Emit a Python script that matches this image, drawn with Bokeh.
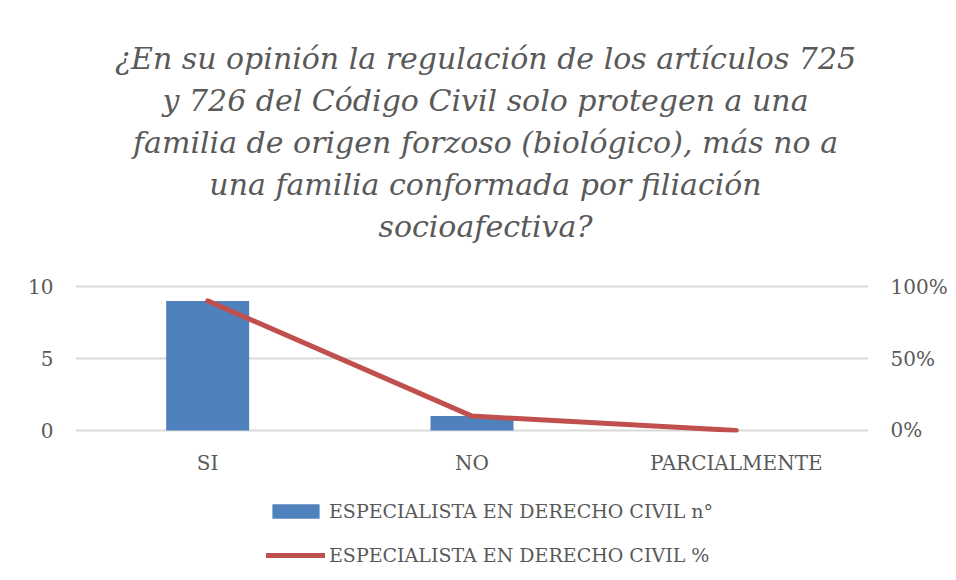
from bokeh.plotting import figure
from bokeh.layouts import column
from bokeh.models import (Range1d, LinearAxis, FixedTicker, NumeralTickFormatter,
                          Legend, LegendItem, Label)
from bokeh.embed import file_html
from bokeh.resources import INLINE

categories = ["SI", "NO", "PARCIALMENTE"]
counts = [9, 1, 0]
percents = [0.9, 0.1, 0.0]
left_ticks = [0, 5, 10]
right_ticks = [0, 0.5, 1.0]
title_lines = [
    "¿En su opinión la regulación de los artículos 725",
    "y 726 del Código Civil solo protegen a una",
    "familia de origen forzoso (biológico), más no a",
    "una familia conformada por filiación",
    "socioafectiva?",
]
series_names = ["ESPECIALISTA EN DERECHO CIVIL n°", "ESPECIALISTA EN DERECHO CIVIL %"]

FONT = "DejaVu Serif"
TXT = "#595959"
BLUE = "#4F81BD"
RED = "#C0504D"
W = 956
FL, FR = 75, 868  # frame left / right (page px)
NAN = float("nan")


def bare(fig):
    fig.outline_line_color = None
    fig.background_fill_color = "white"
    fig.border_fill_color = "white"
    fig.xgrid.grid_line_color = None
    fig.ygrid.grid_line_color = None
    return fig


# ---- header with the title ----
head_h = 270
head = bare(figure(width=W, height=head_h, x_range=Range1d(FL, FR),
                   y_range=Range1d(head_h, 0), x_axis_location=None,
                   y_axis_location=None, output_backend="svg",
                   toolbar_location=None, min_border_left=FL,
                   min_border_right=W - FR, min_border_top=0,
                   min_border_bottom=0))
baselines = [58, 100, 142, 184, 226]
for line, yb in zip(title_lines, baselines):
    head.add_layout(Label(x=485, y=yb, text=line, text_align="center",
                          text_baseline="alphabetic", text_font=FONT,
                          text_font_style="italic", text_font_size="30px",
                          text_color=TXT))

# ---- main chart ----
p = bare(figure(x_range=categories, y_range=Range1d(-0.14, 10.14),
                width=W, height=210, output_backend="svg",
                toolbar_location=None, min_border_left=FL,
                min_border_right=W - FR, min_border_top=14,
                min_border_bottom=48))
p.extra_y_ranges = {"pct": Range1d(-0.014, 1.014)}

bars = p.vbar(x=categories, top=counts, width=0.314, fill_color=BLUE,
              line_color=None)
ln = p.line(x=categories, y=percents, y_range_name="pct", line_width=5,
            color=RED, line_cap="round", line_join="round")

p.yaxis.ticker = FixedTicker(ticks=left_ticks)
right = LinearAxis(y_range_name="pct", ticker=FixedTicker(ticks=right_ticks),
                   formatter=NumeralTickFormatter(format="0%"))
p.add_layout(right, "right")

for ax in [p.xaxis[0], p.yaxis[0], right]:
    ax.axis_line_color = None
    ax.major_tick_line_color = None
    ax.minor_tick_line_color = None
    ax.major_label_text_font = FONT
    ax.major_label_text_font_size = "20px"
    ax.major_label_text_color = TXT
p.yaxis[0].major_label_standoff = 16
right.major_label_standoff = 16
p.xaxis[0].major_label_standoff = 12

p.ygrid.grid_line_color = "#d9d9d9"
p.ygrid.grid_line_width = 2

# ---- legend strip ----
leg_h = 100
foot = bare(figure(width=W, height=leg_h, x_range=Range1d(FL, FR),
                   y_range=Range1d(0, leg_h), x_axis_location=None,
                   y_axis_location=None, output_backend="svg",
                   toolbar_location=None, min_border_left=FL,
                   min_border_right=W - FR, min_border_top=0,
                   min_border_bottom=0))
# legend proxies (NaN -> nothing drawn in the plot area)
lb = foot.vbar(x=[NAN], top=[NAN], width=0.3, fill_color=BLUE, line_color=None)
ll = foot.line(x=[NAN], y=[NAN], line_width=5, color=RED, line_cap="round")
legend = Legend(items=[LegendItem(label=series_names[0], renderers=[lb]),
                       LegendItem(label=series_names[1], renderers=[ll])],
                orientation="vertical", location=(266 - FL, 14),
                label_text_font=FONT, label_text_font_size="19px",
                label_text_color=TXT, glyph_width=59, glyph_height=18,
                spacing=22, padding=0, margin=0, border_line_color=None,
                background_fill_alpha=0, label_standoff=4)
foot.add_layout(legend, "center")

layout = column(head, p, foot, spacing=0)
open("out.html", "w").write(file_html(layout, INLINE))
